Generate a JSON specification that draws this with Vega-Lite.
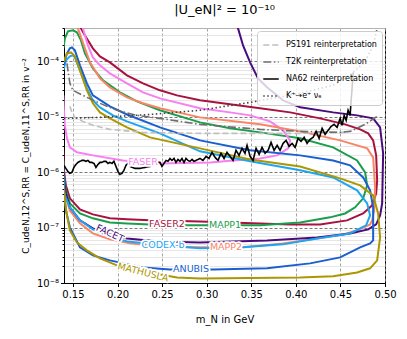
{
  "$schema": "https://vega.github.io/schema/vega-lite/v6.json",
  "width": 321,
  "height": 255,
  "autosize": {"type": "none"},
  "padding": {"left": 64, "top": 28, "right": 22, "bottom": 56},
  "config": {
    "font": "DejaVu Sans",
    "view": {"stroke": "#000000", "strokeWidth": 1},
    "axis": {"domainColor": "#000000", "tickColor": "#000000", "labelColor": "#000000", "titleColor": "#000000", "labelFontSize": 10, "titleFontSize": 10, "titleFontWeight": "normal", "labelFlush": false, "labelOverlap": false}
  },
  "title": {"text": "|U_eN|² = 10⁻¹⁰", "fontSize": 13, "fontWeight": "normal", "offset": 6, "color": "#000000"},
  "datasets": {
    "det": [
      {"name":"FASER2","i":0,"x":0.1556,"y":5.5e-4},{"name":"FASER2","i":1,"x":0.1590,"y":3.94e-4},{"name":"FASER2","i":2,"x":0.1635,"y":2.94e-4},{"name":"FASER2","i":3,"x":0.1724,"y":1.72e-4},{"name":"FASER2","i":4,"x":0.1803,"y":1.23e-4},{"name":"FASER2","i":5,"x":0.1915,"y":9.59e-5},{"name":"FASER2","i":6,"x":0.2106,"y":5.58e-5},{"name":"FASER2","i":7,"x":0.2286,"y":4.01e-5},{"name":"FASER2","i":8,"x":0.2476,"y":3.0e-5},{"name":"FASER2","i":9,"x":0.2667,"y":2.43e-5},{"name":"FASER2","i":10,"x":0.2925,"y":1.98e-5},{"name":"FASER2","i":11,"x":0.3262,"y":1.68e-5},{"name":"FASER2","i":12,"x":0.3599,"y":1.42e-5},{"name":"FASER2","i":13,"x":0.3936,"y":1.20e-5},{"name":"FASER2","i":14,"x":0.4272,"y":9.35e-6},{"name":"FASER2","i":15,"x":0.4553,"y":7.29e-6},{"name":"FASER2","i":16,"x":0.4721,"y":5.93e-6},{"name":"FASER2","i":17,"x":0.4811,"y":5.02e-6},{"name":"FASER2","i":18,"x":0.4867,"y":3.75e-6},{"name":"FASER2","i":19,"x":0.4901,"y":2.01e-6},{"name":"FASER2","i":20,"x":0.4912,"y":7.11e-7},{"name":"FASER2","i":21,"x":0.4901,"y":4.14e-7},{"name":"FASER2","i":22,"x":0.4856,"y":2.52e-7},{"name":"FASER2","i":23,"x":0.4755,"y":1.80e-7},{"name":"FASER2","i":24,"x":0.4575,"y":1.35e-7},{"name":"FASER2","i":25,"x":0.4272,"y":1.14e-7},{"name":"FASER2","i":26,"x":0.3936,"y":1.14e-7},{"name":"FASER2","i":27,"x":0.3599,"y":1.19e-7},{"name":"FASER2","i":28,"x":0.3262,"y":1.24e-7},{"name":"FASER2","i":29,"x":0.2925,"y":1.29e-7},{"name":"FASER2","i":30,"x":0.2364,"y":1.35e-7},{"name":"FASER2","i":31,"x":0.2106,"y":1.41e-7},{"name":"FASER2","i":32,"x":0.1915,"y":1.47e-7},{"name":"FASER2","i":33,"x":0.1724,"y":1.73e-7},{"name":"FASER2","i":34,"x":0.1579,"y":2.13e-7},{"name":"FASER2","i":35,"x":0.1466,"y":3.37e-7},{"name":"FASER2","i":36,"x":0.1421,"y":5.78e-7},{"name":"FASER2","i":37,"x":0.1399,"y":1.08e-6},{"name":"FASER2","i":38,"x":0.1393,"y":2.48e-6},
      {"name":"MAPP1","i":0,"x":0.1393,"y":1.72e-4},{"name":"MAPP1","i":1,"x":0.1410,"y":2.6e-4},{"name":"MAPP1","i":2,"x":0.1444,"y":3.48e-4},{"name":"MAPP1","i":3,"x":0.1500,"y":3.63e-4},{"name":"MAPP1","i":4,"x":0.1545,"y":3.34e-4},{"name":"MAPP1","i":5,"x":0.1590,"y":2.39e-4},{"name":"MAPP1","i":6,"x":0.1635,"y":1.39e-4},{"name":"MAPP1","i":7,"x":0.1724,"y":7.48e-5},{"name":"MAPP1","i":8,"x":0.1837,"y":4.54e-5},{"name":"MAPP1","i":9,"x":0.2027,"y":2.76e-5},{"name":"MAPP1","i":10,"x":0.2218,"y":1.90e-5},{"name":"MAPP1","i":11,"x":0.2476,"y":1.31e-5},{"name":"MAPP1","i":12,"x":0.2925,"y":7.92e-6},{"name":"MAPP1","i":13,"x":0.3262,"y":6.18e-6},{"name":"MAPP1","i":14,"x":0.3599,"y":5.23e-6},{"name":"MAPP1","i":15,"x":0.4048,"y":4.08e-6},{"name":"MAPP1","i":16,"x":0.4418,"y":2.80e-6},{"name":"MAPP1","i":17,"x":0.4687,"y":1.63e-6},{"name":"MAPP1","i":18,"x":0.4777,"y":9.91e-7},{"name":"MAPP1","i":19,"x":0.4800,"y":5.78e-7},{"name":"MAPP1","i":20,"x":0.4755,"y":3.37e-7},{"name":"MAPP1","i":21,"x":0.4665,"y":2.32e-7},{"name":"MAPP1","i":22,"x":0.4553,"y":1.80e-7},{"name":"MAPP1","i":23,"x":0.4384,"y":1.53e-7},{"name":"MAPP1","i":24,"x":0.4048,"y":1.24e-7},{"name":"MAPP1","i":25,"x":0.3599,"y":1.10e-7},{"name":"MAPP1","i":26,"x":0.3038,"y":1.10e-7},{"name":"MAPP1","i":27,"x":0.2779,"y":1.10e-7},{"name":"MAPP1","i":28,"x":0.2364,"y":1.14e-7},{"name":"MAPP1","i":29,"x":0.2106,"y":1.19e-7},{"name":"MAPP1","i":30,"x":0.1915,"y":1.24e-7},{"name":"MAPP1","i":31,"x":0.1724,"y":1.47e-7},{"name":"MAPP1","i":32,"x":0.1579,"y":1.80e-7},{"name":"MAPP1","i":33,"x":0.1466,"y":2.74e-7},{"name":"MAPP1","i":34,"x":0.1421,"y":4.69e-7},{"name":"MAPP1","i":35,"x":0.1399,"y":8.75e-7},{"name":"MAPP1","i":36,"x":0.1393,"y":1.63e-6},
      {"name":"FASER","i":0,"x":0.1590,"y":5.5e-4},{"name":"FASER","i":1,"x":0.1612,"y":3.94e-4},{"name":"FASER","i":2,"x":0.1668,"y":1.94e-4},{"name":"FASER","i":3,"x":0.1724,"y":1.18e-4},{"name":"FASER","i":4,"x":0.1803,"y":8.47e-5},{"name":"FASER","i":5,"x":0.1915,"y":6.07e-5},{"name":"FASER","i":6,"x":0.2106,"y":4.01e-5},{"name":"FASER","i":7,"x":0.2286,"y":2.76e-5},{"name":"FASER","i":8,"x":0.2476,"y":2.15e-5},{"name":"FASER","i":9,"x":0.2925,"y":1.42e-5},{"name":"FASER","i":10,"x":0.3262,"y":1.20e-5},{"name":"FASER","i":11,"x":0.3487,"y":1.06e-5},{"name":"FASER","i":12,"x":0.3711,"y":8.26e-6},{"name":"FASER","i":13,"x":0.3857,"y":5.69e-6},{"name":"FASER","i":14,"x":0.3936,"y":3.75e-6},{"name":"FASER","i":15,"x":0.3914,"y":2.69e-6},{"name":"FASER","i":16,"x":0.3790,"y":2.01e-6},{"name":"FASER","i":17,"x":0.3599,"y":1.77e-6},{"name":"FASER","i":18,"x":0.3296,"y":1.63e-6},{"name":"FASER","i":19,"x":0.3038,"y":1.50e-6},{"name":"FASER","i":20,"x":0.2476,"y":1.44e-6},{"name":"FASER","i":21,"x":0.2061,"y":1.63e-6},{"name":"FASER","i":22,"x":0.1724,"y":2.01e-6},{"name":"FASER","i":23,"x":0.1545,"y":2.28e-6},{"name":"FASER","i":24,"x":0.1466,"y":2.80e-6},{"name":"FASER","i":25,"x":0.1433,"y":4.08e-6},{"name":"FASER","i":26,"x":0.1410,"y":7.0e-6},{"name":"FASER","i":27,"x":0.1399,"y":1.31e-5},{"name":"FASER","i":28,"x":0.1393,"y":2.43e-5},
      {"name":"MAPP2","i":0,"x":0.1522,"y":5.5e-4},{"name":"MAPP2","i":1,"x":0.1556,"y":3.94e-4},{"name":"MAPP2","i":2,"x":0.1623,"y":1.94e-4},{"name":"MAPP2","i":3,"x":0.1691,"y":9.59e-5},{"name":"MAPP2","i":4,"x":0.1803,"y":4.93e-5},{"name":"MAPP2","i":5,"x":0.1915,"y":3.40e-5},{"name":"MAPP2","i":6,"x":0.2106,"y":2.24e-5},{"name":"MAPP2","i":7,"x":0.2286,"y":1.75e-5},{"name":"MAPP2","i":8,"x":0.2476,"y":1.42e-5},{"name":"MAPP2","i":9,"x":0.2925,"y":9.75e-6},{"name":"MAPP2","i":10,"x":0.3599,"y":7.3e-6},{"name":"MAPP2","i":11,"x":0.4048,"y":5.45e-6},{"name":"MAPP2","i":12,"x":0.4497,"y":3.75e-6},{"name":"MAPP2","i":13,"x":0.4800,"y":2.69e-6},{"name":"MAPP2","i":14,"x":0.4867,"y":1.85e-6},{"name":"MAPP2","i":15,"x":0.4889,"y":5.32e-7},{"name":"MAPP2","i":16,"x":0.4878,"y":2.04e-7},{"name":"MAPP2","i":17,"x":0.4856,"y":1.35e-7},{"name":"MAPP2","i":18,"x":0.4833,"y":1.14e-7},{"name":"MAPP2","i":19,"x":0.4687,"y":8.90e-8},{"name":"MAPP2","i":20,"x":0.4530,"y":7.53e-8},{"name":"MAPP2","i":21,"x":0.4239,"y":6.38e-8},{"name":"MAPP2","i":22,"x":0.3857,"y":5.19e-8},{"name":"MAPP2","i":23,"x":0.3408,"y":4.40e-8},{"name":"MAPP2","i":24,"x":0.2925,"y":4.40e-8},{"name":"MAPP2","i":25,"x":0.2476,"y":4.58e-8},{"name":"MAPP2","i":26,"x":0.2140,"y":5.19e-8},{"name":"MAPP2","i":27,"x":0.1915,"y":6.12e-8},{"name":"MAPP2","i":28,"x":0.1724,"y":7.85e-8},{"name":"MAPP2","i":29,"x":0.1579,"y":1.19e-7},{"name":"MAPP2","i":30,"x":0.1466,"y":2.04e-7},{"name":"MAPP2","i":31,"x":0.1421,"y":3.51e-7},{"name":"MAPP2","i":32,"x":0.1399,"y":6.28e-7},{"name":"MAPP2","i":33,"x":0.1393,"y":1.08e-6},
      {"name":"FACET","i":0,"x":0.3329,"y":5.5e-4},{"name":"FACET","i":1,"x":0.3352,"y":3.94e-4},{"name":"FACET","i":2,"x":0.3408,"y":1.94e-4},{"name":"FACET","i":3,"x":0.3487,"y":9.59e-5},{"name":"FACET","i":4,"x":0.3576,"y":4.93e-5},{"name":"FACET","i":5,"x":0.3677,"y":3.40e-5},{"name":"FACET","i":6,"x":0.3857,"y":1.98e-5},{"name":"FACET","i":7,"x":0.4048,"y":1.48e-5},{"name":"FACET","i":8,"x":0.4418,"y":1.20e-5},{"name":"FACET","i":9,"x":0.4687,"y":1.06e-5},{"name":"FACET","i":10,"x":0.4867,"y":9.35e-6},{"name":"FACET","i":11,"x":0.4945,"y":6.44e-6},{"name":"FACET","i":12,"x":0.4979,"y":2.19e-6},{"name":"FACET","i":13,"x":0.4968,"y":2.74e-7},{"name":"FACET","i":14,"x":0.4945,"y":1.66e-7},{"name":"FACET","i":15,"x":0.4901,"y":1.14e-7},{"name":"FACET","i":16,"x":0.4811,"y":9.29e-8},{"name":"FACET","i":17,"x":0.4609,"y":7.85e-8},{"name":"FACET","i":18,"x":0.4239,"y":6.65e-8},{"name":"FACET","i":19,"x":0.3677,"y":5.87e-8},{"name":"FACET","i":20,"x":0.2925,"y":5.40e-8},{"name":"FACET","i":21,"x":0.2476,"y":5.63e-8},{"name":"FACET","i":22,"x":0.2106,"y":6.38e-8},{"name":"FACET","i":23,"x":0.1915,"y":7.53e-8},{"name":"FACET","i":24,"x":0.1724,"y":9.68e-8},{"name":"FACET","i":25,"x":0.1579,"y":1.35e-7},{"name":"FACET","i":26,"x":0.1466,"y":2.32e-7},{"name":"FACET","i":27,"x":0.1421,"y":4.14e-7},{"name":"FACET","i":28,"x":0.1399,"y":7.11e-7},{"name":"FACET","i":29,"x":0.1393,"y":1.33e-6},
      {"name":"CODEX-b","i":0,"x":0.1393,"y":6.89e-5},{"name":"CODEX-b","i":1,"x":0.1421,"y":1.04e-4},{"name":"CODEX-b","i":2,"x":0.1466,"y":1.23e-4},{"name":"CODEX-b","i":3,"x":0.1500,"y":1.28e-4},{"name":"CODEX-b","i":4,"x":0.1522,"y":1.18e-4},{"name":"CODEX-b","i":5,"x":0.1579,"y":6.89e-5},{"name":"CODEX-b","i":6,"x":0.1657,"y":3.26e-5},{"name":"CODEX-b","i":7,"x":0.1724,"y":1.98e-5},{"name":"CODEX-b","i":8,"x":0.1803,"y":1.48e-5},{"name":"CODEX-b","i":9,"x":0.1949,"y":1.06e-5},{"name":"CODEX-b","i":10,"x":0.2106,"y":8.26e-6},{"name":"CODEX-b","i":11,"x":0.2476,"y":5.02e-6},{"name":"CODEX-b","i":12,"x":0.2925,"y":2.38e-6},{"name":"CODEX-b","i":13,"x":0.3487,"y":1.57e-6},{"name":"CODEX-b","i":14,"x":0.4048,"y":1.08e-6},{"name":"CODEX-b","i":15,"x":0.4418,"y":8.05e-7},{"name":"CODEX-b","i":16,"x":0.4687,"y":4.69e-7},{"name":"CODEX-b","i":17,"x":0.4800,"y":2.74e-7},{"name":"CODEX-b","i":18,"x":0.4833,"y":1.66e-7},{"name":"CODEX-b","i":19,"x":0.4788,"y":1.10e-7},{"name":"CODEX-b","i":20,"x":0.4609,"y":7.85e-8},{"name":"CODEX-b","i":21,"x":0.4239,"y":6.38e-8},{"name":"CODEX-b","i":22,"x":0.3857,"y":4.98e-8},{"name":"CODEX-b","i":23,"x":0.3408,"y":4.40e-8},{"name":"CODEX-b","i":24,"x":0.2925,"y":4.22e-8},{"name":"CODEX-b","i":25,"x":0.2779,"y":4.40e-8},{"name":"CODEX-b","i":26,"x":0.2106,"y":5.63e-8},{"name":"CODEX-b","i":27,"x":0.1915,"y":6.93e-8},{"name":"CODEX-b","i":28,"x":0.1724,"y":9.29e-8},{"name":"CODEX-b","i":29,"x":0.1579,"y":1.35e-7},{"name":"CODEX-b","i":30,"x":0.1466,"y":2.32e-7},{"name":"CODEX-b","i":31,"x":0.1410,"y":3.81e-7},{"name":"CODEX-b","i":32,"x":0.1399,"y":5.78e-7},{"name":"CODEX-b","i":33,"x":0.1393,"y":8.75e-7},
      {"name":"ANUBIS","i":0,"x":0.1393,"y":8.47e-5},{"name":"ANUBIS","i":1,"x":0.1433,"y":1.39e-4},{"name":"ANUBIS","i":2,"x":0.1466,"y":1.72e-4},{"name":"ANUBIS","i":3,"x":0.1489,"y":1.79e-4},{"name":"ANUBIS","i":4,"x":0.1522,"y":1.58e-4},{"name":"ANUBIS","i":5,"x":0.1579,"y":8.47e-5},{"name":"ANUBIS","i":6,"x":0.1657,"y":4.01e-5},{"name":"ANUBIS","i":7,"x":0.1724,"y":2.43e-5},{"name":"ANUBIS","i":8,"x":0.1915,"y":1.54e-5},{"name":"ANUBIS","i":9,"x":0.2106,"y":1.10e-5},{"name":"ANUBIS","i":10,"x":0.2476,"y":6.44e-6},{"name":"ANUBIS","i":11,"x":0.2925,"y":3.75e-6},{"name":"ANUBIS","i":12,"x":0.3487,"y":2.48e-6},{"name":"ANUBIS","i":13,"x":0.4048,"y":2.01e-6},{"name":"ANUBIS","i":14,"x":0.4418,"y":1.63e-6},{"name":"ANUBIS","i":15,"x":0.4609,"y":1.33e-6},{"name":"ANUBIS","i":16,"x":0.4755,"y":8.05e-7},{"name":"ANUBIS","i":17,"x":0.4833,"y":4.69e-7},{"name":"ANUBIS","i":18,"x":0.4867,"y":2.32e-7},{"name":"ANUBIS","i":19,"x":0.4867,"y":5.87e-8},{"name":"ANUBIS","i":20,"x":0.4833,"y":5.19e-8},{"name":"ANUBIS","i":21,"x":0.4721,"y":4.40e-8},{"name":"ANUBIS","i":22,"x":0.4497,"y":2.90e-8},{"name":"ANUBIS","i":23,"x":0.4160,"y":2.26e-8},{"name":"ANUBIS","i":24,"x":0.3677,"y":1.84e-8},{"name":"ANUBIS","i":25,"x":0.3071,"y":1.76e-8},{"name":"ANUBIS","i":26,"x":0.2589,"y":1.76e-8},{"name":"ANUBIS","i":27,"x":0.2286,"y":1.91e-8},{"name":"ANUBIS","i":28,"x":0.1915,"y":2.56e-8},{"name":"ANUBIS","i":29,"x":0.1724,"y":3.15e-8},{"name":"ANUBIS","i":30,"x":0.1579,"y":4.40e-8},{"name":"ANUBIS","i":31,"x":0.1466,"y":1.01e-7},{"name":"ANUBIS","i":32,"x":0.1421,"y":2.04e-7},{"name":"ANUBIS","i":33,"x":0.1405,"y":3.51e-7},{"name":"ANUBIS","i":34,"x":0.1393,"y":5.78e-7},
      {"name":"MATHUSLA","i":0,"x":0.1393,"y":9.6e-5},{"name":"MATHUSLA","i":1,"x":0.1433,"y":1.39e-4},{"name":"MATHUSLA","i":2,"x":0.1478,"y":1.45e-4},{"name":"MATHUSLA","i":3,"x":0.1522,"y":1.23e-4},{"name":"MATHUSLA","i":4,"x":0.1579,"y":6.89e-5},{"name":"MATHUSLA","i":5,"x":0.1657,"y":3.0e-5},{"name":"MATHUSLA","i":6,"x":0.1724,"y":1.75e-5},{"name":"MATHUSLA","i":7,"x":0.1803,"y":1.20e-5},{"name":"MATHUSLA","i":8,"x":0.1915,"y":9.35e-6},{"name":"MATHUSLA","i":9,"x":0.2106,"y":6.44e-6},{"name":"MATHUSLA","i":10,"x":0.2364,"y":4.25e-6},{"name":"MATHUSLA","i":11,"x":0.2925,"y":2.69e-6},{"name":"MATHUSLA","i":12,"x":0.3487,"y":1.70e-6},{"name":"MATHUSLA","i":13,"x":0.4048,"y":1.27e-6},{"name":"MATHUSLA","i":14,"x":0.4497,"y":7.72e-7},{"name":"MATHUSLA","i":15,"x":0.4721,"y":5.78e-7},{"name":"MATHUSLA","i":16,"x":0.4867,"y":3.81e-7},{"name":"MATHUSLA","i":17,"x":0.4923,"y":1.80e-7},{"name":"MATHUSLA","i":18,"x":0.4945,"y":6.65e-8},{"name":"MATHUSLA","i":19,"x":0.4912,"y":2.56e-8},{"name":"MATHUSLA","i":20,"x":0.4833,"y":1.84e-8},{"name":"MATHUSLA","i":21,"x":0.4687,"y":1.55e-8},{"name":"MATHUSLA","i":22,"x":0.4418,"y":1.32e-8},{"name":"MATHUSLA","i":23,"x":0.4048,"y":1.26e-8},{"name":"MATHUSLA","i":24,"x":0.2925,"y":1.21e-8},{"name":"MATHUSLA","i":25,"x":0.2667,"y":1.26e-8},{"name":"MATHUSLA","i":26,"x":0.2589,"y":1.32e-8},{"name":"MATHUSLA","i":27,"x":0.2286,"y":1.62e-8},{"name":"MATHUSLA","i":28,"x":0.1994,"y":2.08e-8},{"name":"MATHUSLA","i":29,"x":0.1803,"y":2.78e-8},{"name":"MATHUSLA","i":30,"x":0.1657,"y":3.88e-8},{"name":"MATHUSLA","i":31,"x":0.1545,"y":5.40e-8},{"name":"MATHUSLA","i":32,"x":0.1466,"y":8.90e-8},{"name":"MATHUSLA","i":33,"x":0.1444,"y":1.35e-7},{"name":"MATHUSLA","i":34,"x":0.1421,"y":2.22e-7},{"name":"MATHUSLA","i":35,"x":0.1405,"y":3.81e-7},{"name":"MATHUSLA","i":36,"x":0.1393,"y":5.78e-7}
    ],
    "ref": [
      {"src":"PS191","i":0,"x":0.1466,"y":1.54e-5},{"src":"PS191","i":1,"x":0.1489,"y":1.20e-5},{"src":"PS191","i":2,"x":0.1522,"y":9.75e-6},{"src":"PS191","i":3,"x":0.1612,"y":8.26e-6},{"src":"PS191","i":4,"x":0.1724,"y":7.0e-6},{"src":"PS191","i":5,"x":0.1915,"y":5.93e-6},{"src":"PS191","i":6,"x":0.2286,"y":5.23e-6},{"src":"PS191","i":7,"x":0.2925,"y":5.02e-6},{"src":"PS191","i":8,"x":0.3599,"y":5.02e-6},{"src":"PS191","i":9,"x":0.4048,"y":5.02e-6},{"src":"PS191","i":10,"x":0.4553,"y":5.23e-6},
      {"src":"T2K","i":0,"x":0.1433,"y":9.2e-5},{"src":"T2K","i":1,"x":0.1466,"y":4.01e-5},{"src":"T2K","i":2,"x":0.1500,"y":3.0e-5},{"src":"T2K","i":3,"x":0.1657,"y":2.24e-5},{"src":"T2K","i":4,"x":0.1803,"y":1.75e-5},{"src":"T2K","i":5,"x":0.1994,"y":1.31e-5},{"src":"T2K","i":6,"x":0.2218,"y":1.06e-5},{"src":"T2K","i":7,"x":0.2476,"y":9.35e-6},{"src":"T2K","i":8,"x":0.2925,"y":7.29e-6},{"src":"T2K","i":9,"x":0.3599,"y":5.93e-6},{"src":"T2K","i":10,"x":0.4048,"y":5.45e-6},{"src":"T2K","i":11,"x":0.4497,"y":5.23e-6},{"src":"T2K","i":12,"x":0.4609,"y":5.45e-6},{"src":"T2K","i":13,"x":0.4777,"y":7.29e-6},{"src":"T2K","i":14,"x":0.4912,"y":1.02e-5},
      {"src":"K","i":0,"x":0.1399,"y":9.35e-6},{"src":"K","i":1,"x":0.1803,"y":9.75e-6},{"src":"K","i":2,"x":0.2364,"y":1.10e-5},{"src":"K","i":3,"x":0.2925,"y":1.31e-5},{"src":"K","i":4,"x":0.3487,"y":1.82e-5},{"src":"K","i":5,"x":0.4048,"y":2.65e-5},{"src":"K","i":6,"x":0.4418,"y":3.69e-5},{"src":"K","i":7,"x":0.4631,"y":6.07e-5},{"src":"K","i":8,"x":0.4777,"y":1.0e-4},{"src":"K","i":9,"x":0.4867,"y":1.94e-4},{"src":"K","i":10,"x":0.4912,"y":3.94e-4},
      {"src":"NA62","i":0,"x":0.1399,"y":1.33e-6},{"src":"NA62","i":1,"x":0.1421,"y":1.17e-6},{"src":"NA62","i":2,"x":0.1444,"y":1.03e-6},{"src":"NA62","i":3,"x":0.1466,"y":9.51e-7},{"src":"NA62","i":4,"x":0.1489,"y":9.91e-7},{"src":"NA62","i":5,"x":0.1511,"y":1.22e-6},{"src":"NA62","i":6,"x":0.1534,"y":1.38e-6},{"src":"NA62","i":7,"x":0.1556,"y":1.50e-6},{"src":"NA62","i":8,"x":0.1579,"y":1.57e-6},{"src":"NA62","i":9,"x":0.1601,"y":1.63e-6},{"src":"NA62","i":10,"x":0.1623,"y":1.63e-6},{"src":"NA62","i":11,"x":0.1646,"y":1.57e-6},{"src":"NA62","i":12,"x":0.1668,"y":1.63e-6},{"src":"NA62","i":13,"x":0.1691,"y":1.50e-6},{"src":"NA62","i":14,"x":0.1713,"y":1.50e-6},{"src":"NA62","i":15,"x":0.1736,"y":1.44e-6},{"src":"NA62","i":16,"x":0.1758,"y":1.22e-6},{"src":"NA62","i":17,"x":0.1781,"y":1.38e-6},{"src":"NA62","i":18,"x":0.1803,"y":1.50e-6},{"src":"NA62","i":19,"x":0.1825,"y":1.50e-6},{"src":"NA62","i":20,"x":0.1848,"y":1.57e-6},{"src":"NA62","i":21,"x":0.1870,"y":1.57e-6},{"src":"NA62","i":22,"x":0.1893,"y":1.44e-6},{"src":"NA62","i":23,"x":0.1915,"y":1.50e-6},{"src":"NA62","i":24,"x":0.1938,"y":1.44e-6},{"src":"NA62","i":25,"x":0.1960,"y":1.57e-6},{"src":"NA62","i":26,"x":0.1983,"y":1.27e-6},{"src":"NA62","i":27,"x":0.2005,"y":1.03e-6},{"src":"NA62","i":28,"x":0.2027,"y":9.12e-7},{"src":"NA62","i":29,"x":0.2050,"y":9.51e-7},{"src":"NA62","i":30,"x":0.2072,"y":1.08e-6},{"src":"NA62","i":31,"x":0.2095,"y":1.33e-6},{"src":"NA62","i":32,"x":0.2117,"y":1.44e-6},{"src":"NA62","i":33,"x":0.2140,"y":1.27e-6},{"src":"NA62","i":34,"x":0.2196,"y":1.17e-6},{"src":"NA62","i":35,"x":0.2252,"y":1.17e-6},{"src":"NA62","i":36,"x":0.2308,"y":1.22e-6},{"src":"NA62","i":37,"x":0.2364,"y":1.27e-6},{"src":"NA62","i":38,"x":0.2420,"y":1.44e-6},{"src":"NA62","i":39,"x":0.2454,"y":1.50e-6},{"src":"NA62","i":40,"x":0.2476,"y":1.50e-6},{"src":"NA62","i":41,"x":0.2499,"y":1.27e-6},{"src":"NA62","i":42,"x":0.2521,"y":1.44e-6},{"src":"NA62","i":43,"x":0.2544,"y":1.63e-6},{"src":"NA62","i":44,"x":0.2566,"y":1.57e-6},{"src":"NA62","i":45,"x":0.2589,"y":1.77e-6},{"src":"NA62","i":46,"x":0.2611,"y":1.63e-6},{"src":"NA62","i":47,"x":0.2634,"y":1.77e-6},{"src":"NA62","i":48,"x":0.2656,"y":1.50e-6},{"src":"NA62","i":49,"x":0.2678,"y":1.70e-6},{"src":"NA62","i":50,"x":0.2701,"y":1.57e-6},{"src":"NA62","i":51,"x":0.2723,"y":1.77e-6},{"src":"NA62","i":52,"x":0.2746,"y":1.50e-6},{"src":"NA62","i":53,"x":0.2768,"y":1.77e-6},{"src":"NA62","i":54,"x":0.2791,"y":1.63e-6},{"src":"NA62","i":55,"x":0.2813,"y":1.57e-6},{"src":"NA62","i":56,"x":0.2836,"y":1.70e-6},{"src":"NA62","i":57,"x":0.2858,"y":1.57e-6},{"src":"NA62","i":58,"x":0.2880,"y":1.63e-6},{"src":"NA62","i":59,"x":0.2903,"y":1.70e-6},{"src":"NA62","i":60,"x":0.2925,"y":1.77e-6},{"src":"NA62","i":61,"x":0.2959,"y":1.63e-6},{"src":"NA62","i":62,"x":0.2993,"y":1.93e-6},{"src":"NA62","i":63,"x":0.3026,"y":1.77e-6},{"src":"NA62","i":64,"x":0.3060,"y":2.28e-6},{"src":"NA62","i":65,"x":0.3094,"y":1.85e-6},{"src":"NA62","i":66,"x":0.3127,"y":1.63e-6},{"src":"NA62","i":67,"x":0.3161,"y":2.19e-6},{"src":"NA62","i":68,"x":0.3195,"y":1.77e-6},{"src":"NA62","i":69,"x":0.3228,"y":2.28e-6},{"src":"NA62","i":70,"x":0.3262,"y":1.93e-6},{"src":"NA62","i":71,"x":0.3296,"y":1.63e-6},{"src":"NA62","i":72,"x":0.3329,"y":2.48e-6},{"src":"NA62","i":73,"x":0.3363,"y":2.01e-6},{"src":"NA62","i":74,"x":0.3397,"y":2.69e-6},{"src":"NA62","i":75,"x":0.3430,"y":2.19e-6},{"src":"NA62","i":76,"x":0.3453,"y":3.05e-6},{"src":"NA62","i":77,"x":0.3487,"y":1.93e-6},{"src":"NA62","i":78,"x":0.3520,"y":1.63e-6},{"src":"NA62","i":79,"x":0.3554,"y":2.69e-6},{"src":"NA62","i":80,"x":0.3588,"y":2.10e-6},{"src":"NA62","i":81,"x":0.3621,"y":2.80e-6},{"src":"NA62","i":82,"x":0.3655,"y":2.19e-6},{"src":"NA62","i":83,"x":0.3689,"y":2.48e-6},{"src":"NA62","i":84,"x":0.3722,"y":3.45e-6},{"src":"NA62","i":85,"x":0.3756,"y":2.48e-6},{"src":"NA62","i":86,"x":0.3790,"y":3.05e-6},{"src":"NA62","i":87,"x":0.3823,"y":2.48e-6},{"src":"NA62","i":88,"x":0.3857,"y":3.31e-6},{"src":"NA62","i":89,"x":0.3891,"y":3.75e-6},{"src":"NA62","i":90,"x":0.3924,"y":2.92e-6},{"src":"NA62","i":91,"x":0.3958,"y":3.31e-6},{"src":"NA62","i":92,"x":0.3992,"y":2.80e-6},{"src":"NA62","i":93,"x":0.4025,"y":4.08e-6},{"src":"NA62","i":94,"x":0.4059,"y":3.60e-6},{"src":"NA62","i":95,"x":0.4093,"y":4.25e-6},{"src":"NA62","i":96,"x":0.4126,"y":3.31e-6},{"src":"NA62","i":97,"x":0.4160,"y":3.91e-6},{"src":"NA62","i":98,"x":0.4194,"y":4.25e-6},{"src":"NA62","i":99,"x":0.4227,"y":5.45e-6},{"src":"NA62","i":100,"x":0.4261,"y":4.08e-6},{"src":"NA62","i":101,"x":0.4295,"y":6.18e-6},{"src":"NA62","i":102,"x":0.4328,"y":4.81e-6},{"src":"NA62","i":103,"x":0.4362,"y":5.69e-6},{"src":"NA62","i":104,"x":0.4396,"y":6.71e-6},{"src":"NA62","i":105,"x":0.4429,"y":7.29e-6},{"src":"NA62","i":106,"x":0.4463,"y":6.44e-6},{"src":"NA62","i":107,"x":0.4497,"y":9.35e-6},{"src":"NA62","i":108,"x":0.4519,"y":7.0e-6},{"src":"NA62","i":109,"x":0.4542,"y":1.06e-5},{"src":"NA62","i":110,"x":0.4564,"y":8.61e-6},{"src":"NA62","i":111,"x":0.4586,"y":1.31e-5},{"src":"NA62","i":112,"x":0.4609,"y":1.06e-5},{"src":"NA62","i":113,"x":0.4620,"y":1.98e-5},{"src":"NA62","i":114,"x":0.4631,"y":3.26e-5},{"src":"NA62","i":115,"x":0.4643,"y":6.33e-5}
    ],
    "lab": [
      {"name":"FASER","x":0.2286,"y":1.50e-6},
      {"name":"FASER2","x":0.2555,"y":1.14e-7},
      {"name":"MAPP1","x":0.3206,"y":1.10e-7},
      {"name":"FACET","x":0.1915,"y":7.85e-8},
      {"name":"CODEX-b","x":0.2510,"y":4.77e-8},
      {"name":"MAPP2","x":0.3217,"y":4.40e-8},
      {"name":"ANUBIS","x":0.2824,"y":1.76e-8},
      {"name":"MATHUSLA","x":0.2286,"y":1.55e-8}
    ]
  },
  "encoding": {
    "x": {"field": "x", "type": "quantitative", "scale": {"domain": [0.14, 0.5], "nice": false, "zero": false},
      "axis": {"values": [0.15, 0.2, 0.25, 0.3, 0.35, 0.4, 0.45, 0.5], "format": ".2f", "title": "m_N in GeV", "grid": true, "gridDash": [3, 2], "gridColor": "#8c8c8c", "gridWidth": 0.8, "tickSize": 3.5, "labelPadding": 3, "titlePadding": 15}},
    "y": {"field": "y", "type": "quantitative", "scale": {"type": "log", "domain": [1e-8, 4e-4], "nice": false},
      "axis": {
        "values": [1e-8, 2e-8, 3e-8, 4e-8, 5e-8, 6e-8, 7e-8, 8e-8, 9e-8, 1e-7, 2e-7, 3e-7, 4e-7, 5e-7, 6e-7, 7e-7, 8e-7, 9e-7, 1e-6, 2e-6, 3e-6, 4e-6, 5e-6, 6e-6, 7e-6, 8e-6, 9e-6, 1e-5, 2e-5, 3e-5, 4e-5, 5e-5, 6e-5, 7e-5, 8e-5, 9e-5, 1e-4, 2e-4, 3e-4, 4e-4],
        "labelExpr": "abs(log(datum.value)/LN10 - round(log(datum.value)/LN10)) < 0.001 ? '10' + ['⁻⁸','⁻⁷','⁻⁶','⁻⁵','⁻⁴'][round(log(datum.value)/LN10) + 8] : ''",
        "grid": true,
        "gridDash": {"condition": {"test": "abs(log(datum.value)/LN10 - round(log(datum.value)/LN10)) < 0.001", "value": [3, 2]}, "value": []},
        "gridColor": {"condition": {"test": "abs(log(datum.value)/LN10 - round(log(datum.value)/LN10)) < 0.001", "value": "#555555"}, "value": "#e0e0e0"},
        "gridWidth": 0.8,
        "tickSize": {"condition": {"test": "abs(log(datum.value)/LN10 - round(log(datum.value)/LN10)) < 0.001", "value": 3.5}, "value": 2},
        "labelPadding": 2,
        "title": "C_udeN,12^S,RR = C_udeN,11^S,RR in v⁻²",
        "titleFontSize": 9,
        "titlePadding": 6
      }}
  },
  "layer": [
    {"data": {"name": "det"}, "mark": {"type": "line", "strokeWidth": 2, "clip": true},
     "encoding": {
       "color": {"field": "name", "type": "nominal", "legend": null,
         "scale": {"domain": ["FASER2", "FASER", "MAPP1", "MAPP2", "FACET", "CODEX-b", "ANUBIS", "MATHUSLA"],
                   "range": ["#a8123e", "#f77ff0", "#1b9e4b", "#fa8466", "#4a0c7c", "#1ea5f2", "#1a5fd0", "#ab9700"]}},
       "order": {"field": "i", "type": "quantitative"}}},
    {"data": {"name": "ref"}, "mark": {"type": "line", "strokeWidth": 1.6, "clip": true},
     "encoding": {
       "stroke": {"field": "src", "type": "nominal",
         "scale": {"domain": ["PS191", "T2K", "NA62", "K"], "range": ["#c0c0c0", "#6e6e6e", "#000000", "#404040"]},
         "legend": {"title": null, "orient": "top-right", "offset": 3, "fillColor": "rgba(255,255,255,0.8)", "strokeColor": "#cccccc", "cornerRadius": 3, "padding": 5, "labelFontSize": 8, "labelColor": "#000000", "symbolType": "stroke", "symbolSize": 240, "symbolStrokeWidth": 1.6, "rowPadding": 4, "labelOffset": 6,
           "labelExpr": "datum.label == 'K' ? 'K⁺→e⁺ νₑ' : datum.label + ' reinterpretation'"}},
       "strokeDash": {"field": "src", "type": "nominal",
         "scale": {"domain": ["PS191", "T2K", "NA62", "K"], "range": [[6, 3], [8, 2.5, 1.5, 2.5], [1, 0], [1.5, 2.5]]},
         "legend": {"title": null, "orient": "top-right", "offset": 3, "fillColor": "rgba(255,255,255,0.8)", "strokeColor": "#cccccc", "cornerRadius": 3, "padding": 5, "labelFontSize": 8, "labelColor": "#000000", "symbolType": "stroke", "symbolSize": 240, "symbolStrokeWidth": 1.6, "rowPadding": 4, "labelOffset": 6,
           "labelExpr": "datum.label == 'K' ? 'K⁺→e⁺ νₑ' : datum.label + ' reinterpretation'"}},
       "order": {"field": "i", "type": "quantitative"}}},
    {"data": {"name": "lab"}, "mark": {"type": "text", "fontSize": 9.5, "fill": "white", "stroke": "white", "strokeWidth": 3.5, "strokeJoin": "round"},
     "encoding": {"text": {"field": "name"},
       "angle": {"condition": [{"test": "datum.name == 'FACET'", "value": 25}, {"test": "datum.name == 'MATHUSLA'", "value": 14}], "value": 0}}},
    {"data": {"name": "lab"}, "mark": {"type": "text", "fontSize": 9.5},
     "encoding": {"text": {"field": "name"},
       "color": {"field": "name", "type": "nominal", "legend": null},
       "angle": {"condition": [{"test": "datum.name == 'FACET'", "value": 25}, {"test": "datum.name == 'MATHUSLA'", "value": 14}], "value": 0}}}
  ]
}
